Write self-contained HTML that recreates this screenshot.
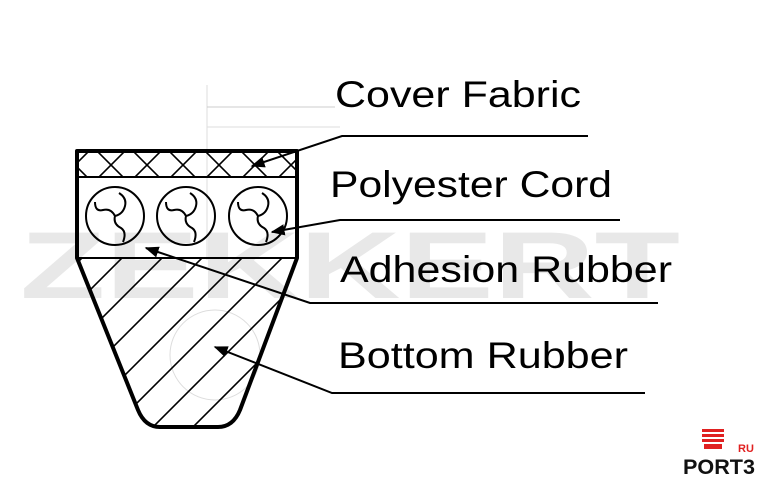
<!DOCTYPE html>
<html><head><meta charset="utf-8"><style>
html,body{margin:0;padding:0;background:#fff;}
svg{display:block}
</style></head><body>
<svg width="766" height="490" viewBox="0 0 766 490" xmlns="http://www.w3.org/2000/svg">
<defs>
<clipPath id="bot"><path d="M77 258 L296 258 L240 410 Q233 427 218 427 L160 427 Q145 427 138 410 Z"/></clipPath>
<clipPath id="fab"><rect x="77" y="152" width="219" height="25"/></clipPath>
<marker id="ar" viewBox="0 0 10 10" refX="9" refY="5" markerWidth="7" markerHeight="7" orient="auto"><path d="M0 1 L10 5 L0 9 Z" fill="#000"/></marker>
</defs>
<!-- faint watermark -->
<text x="20" y="298" font-family="Liberation Sans,sans-serif" font-weight="bold" font-size="95" fill="#e8e8e8" textLength="660" lengthAdjust="spacingAndGlyphs">ZEKKERT</text>
<line x1="207" y1="85" x2="207" y2="260" stroke="#ddd" stroke-width="1"/>
<line x1="207" y1="107" x2="335" y2="107" stroke="#ccc" stroke-width="1"/>
<line x1="207" y1="127" x2="340" y2="127" stroke="#ddd" stroke-width="1"/>
<circle cx="215" cy="355" r="45" fill="none" stroke="#ddd" stroke-width="1"/>
<!-- hatching fabric -->
<g clip-path="url(#fab)" stroke="#000" stroke-width="1.6">
<path d="M60 150 L90 180 M96 150 L126 180 M132 150 L162 180 M168 150 L198 180 M204 150 L234 180 M240 150 L270 180 M276 150 L306 180"/>
<path d="M90 150 L60 180 M126 150 L96 180 M162 150 L132 180 M198 150 L168 180 M234 150 L204 180 M270 150 L240 180 M306 150 L276 180"/>
</g>
<!-- hatching bottom -->
<g clip-path="url(#bot)" stroke="#000" stroke-width="1.6">
<path d="M40 300 L130 210 M40 340 L170 210 M40 380 L210 210 M40 420 L250 210 M40 460 L290 210 M60 480 L330 210 M100 480 L370 210 M140 480 L410 210 M180 480 L450 210 M220 480 L490 210"/>
</g>
<!-- outline -->
<path d="M77 151 L297 151 L297 258 L240 410 Q233 427 218 427 L160 427 Q145 427 138 410 L77 258 Z" fill="none" stroke="#000" stroke-width="4" stroke-linejoin="round"/>
<line x1="77" y1="177" x2="297" y2="177" stroke="#000" stroke-width="2"/>
<line x1="77" y1="258" x2="297" y2="258" stroke="#000" stroke-width="2"/>
<!-- cords -->
<g fill="none" stroke="#000" stroke-width="2">
<circle cx="115" cy="216" r="29"/><circle cx="186" cy="216" r="29"/><circle cx="258" cy="216" r="29"/>
<g id="sw"><path d="M115 216 q-4 -8 -12 -6 q-8 2 -8 -8 M115 216 q8 -2 10 -10 q2 -8 -6 -13 M115 216 q-2 8 6 12 q6 4 2 14"/></g>
<use href="#sw" x="71"/><use href="#sw" x="143"/>
</g>
<!-- leaders -->
<g fill="none" stroke="#000" stroke-width="2">
<path d="M588 136 L342 136 L252 166" marker-end="url(#ar)"/>
<path d="M620 220 L340 220 L272 232" marker-end="url(#ar)"/>
<path d="M658 303 L310 303 L146 248" marker-end="url(#ar)"/>
<path d="M645 393 L332 393 L215 347" marker-end="url(#ar)"/>
</g>
<g font-family="Liberation Sans,sans-serif" font-size="37" fill="#000">
<text x="335" y="107" textLength="246" lengthAdjust="spacingAndGlyphs">Cover Fabric</text>
<text x="330" y="197" textLength="282" lengthAdjust="spacingAndGlyphs">Polyester Cord</text>
<text x="340" y="282" textLength="332" lengthAdjust="spacingAndGlyphs">Adhesion Rubber</text>
<text x="338" y="368" textLength="290" lengthAdjust="spacingAndGlyphs">Bottom Rubber</text>
</g>
<!-- logo -->
<g fill="#e02020">
<rect x="702" y="429" width="22" height="3"/><rect x="702" y="434" width="22" height="3"/><rect x="702" y="439" width="22" height="3"/><rect x="704" y="444" width="18" height="5"/>
</g>
<text x="738" y="452" font-family="Liberation Sans,sans-serif" font-weight="bold" font-size="11" fill="#e02020">RU</text>
<text x="683" y="474" font-family="Liberation Sans,sans-serif" font-weight="bold" font-size="21" fill="#111" textLength="72" lengthAdjust="spacingAndGlyphs">PORT3</text>
</svg>
</body></html>
